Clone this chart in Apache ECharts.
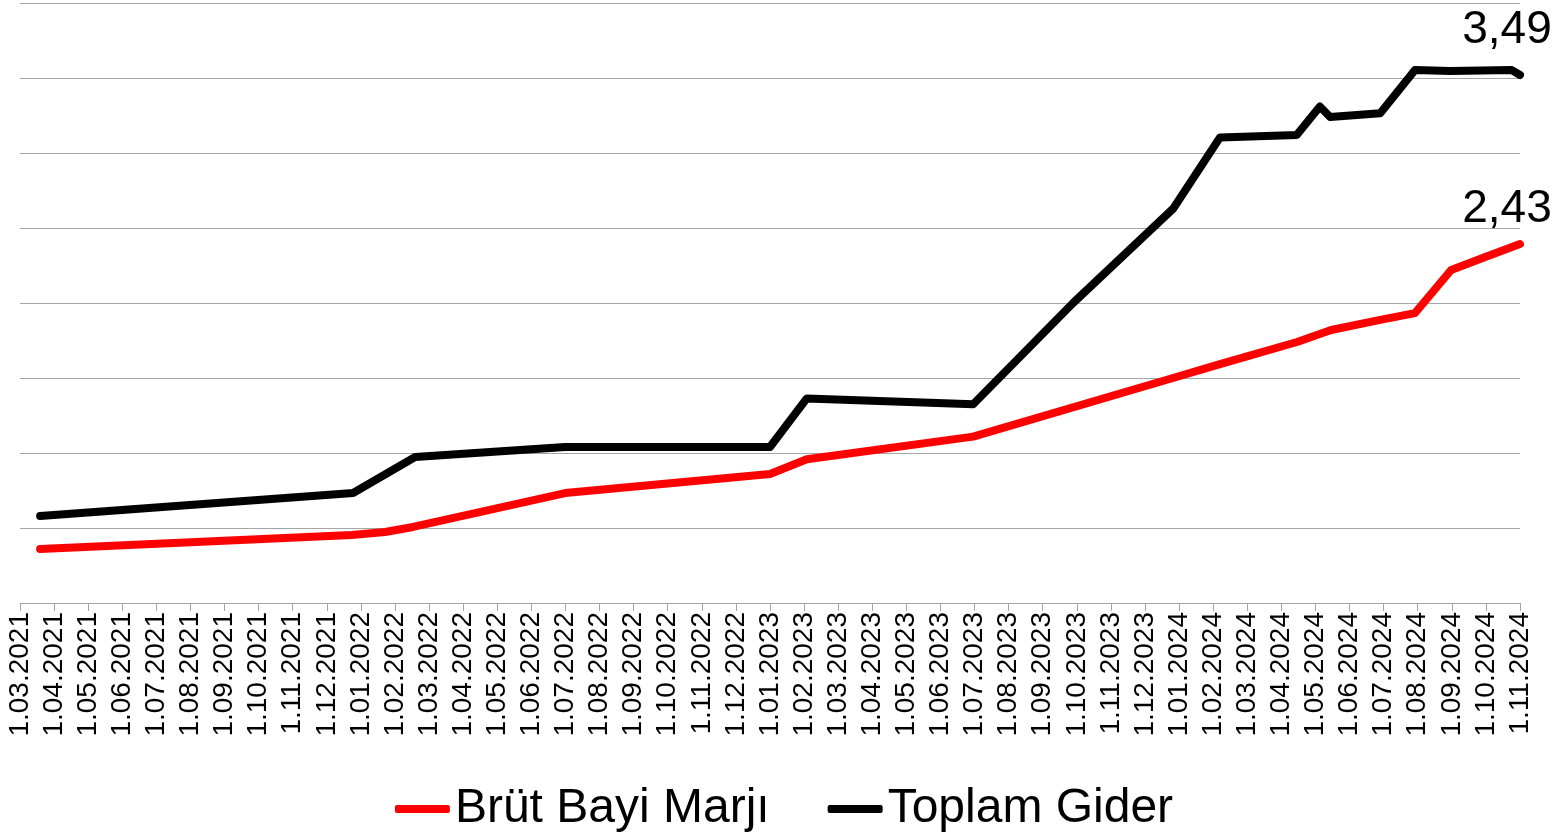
<!DOCTYPE html>
<html>
<head>
<meta charset="utf-8">
<script src="https://cdn.jsdelivr.net/npm/echarts@6/dist/echarts.min.js"></script>
<style>
html,body{margin:0;padding:0;background:#fff;}
#chart{width:1568px;height:836px;}
</style>
</head>
<body>
<div id="chart"></div>
<script>
// x-axis tick labels (monthly)
const months = ['1.03.2021','1.04.2021','1.05.2021','1.06.2021','1.07.2021','1.08.2021','1.09.2021','1.10.2021','1.11.2021','1.12.2021',
  '1.01.2022','1.02.2022','1.03.2022','1.04.2022','1.05.2022','1.06.2022','1.07.2022','1.08.2022','1.09.2022','1.10.2022','1.11.2022','1.12.2022',
  '1.01.2023','1.02.2023','1.03.2023','1.04.2023','1.05.2023','1.06.2023','1.07.2023','1.08.2023','1.09.2023','1.10.2023','1.11.2023','1.12.2023',
  '1.01.2024','1.02.2024','1.03.2024','1.04.2024','1.05.2024','1.06.2024','1.07.2024','1.08.2024','1.09.2024','1.10.2024','1.11.2024'];

const seriesNames = ['Brüt Bayi Marjı', 'Toplam Gider'];

// Brüt Bayi Marjı: positions in months since 1.03.2021, and values
const marjX = [0.59, 9.73, 10.71, 11.53, 15.99, 22.0, 23.08, 27.96, 33.82, 35.2, 37.46, 38.46, 39.9, 40.92, 41.98, 42.98, 44];
const marjY = [0.36, 0.453, 0.473, 0.507, 0.733, 0.86, 0.958, 1.109, 1.5, 1.593, 1.74, 1.82, 1.887, 1.933, 2.22, 2.307, 2.393];

// Toplam Gider
const giderX = [0.59, 9.77, 11.59, 15.99, 22.0, 23.08, 27.96, 30.89, 33.83, 35.2, 37.45, 38.13, 38.43, 39.9, 40.92, 41.95, 43.76, 44];
const giderY = [0.58, 0.733, 0.973, 1.04, 1.04, 1.364, 1.325, 2.0, 2.63, 3.104, 3.12, 3.31, 3.24, 3.265, 3.553, 3.547, 3.553, 3.52];

// end-of-line value labels
const endLabels = ['2,43', '3,49'];

const font = 'Liberation Sans, Arial, sans-serif';

function buildData(xs, ys, lbl, dist) {
  return xs.map((x, i) => {
    if (i === xs.length - 1) {
      return {
        value: [x, ys[i]],
        label: {
          show: true, position: 'top', distance: dist, offset: [-13, 0],
          formatter: () => lbl,
          fontFamily: font, fontSize: 46, color: '#000'
        }
      };
    }
    return [x, ys[i]];
  });
}

const chart = echarts.init(document.getElementById('chart'), null, {renderer: 'canvas'});
chart.setOption({
  animation: false,
  backgroundColor: '#fff',
  grid: {left: 20, right: 48, top: 3, bottom: 233, containLabel: false},
  legend: {
    bottom: -2, left: 'center',
    itemWidth: 55, itemHeight: 8, itemGap: 58,
    icon: 'roundRect',
    textStyle: {fontFamily: font, fontSize: 48, color: '#000'},
    data: seriesNames
  },
  xAxis: {
    type: 'value', min: 0, max: months.length - 1, interval: 1,
    axisLine: {show: true, lineStyle: {color: '#a6a6a6', width: 1}},
    axisTick: {show: true, length: 8, lineStyle: {color: '#a6a6a6'}},
    splitLine: {show: false},
    axisLabel: {
      rotate: 90, margin: 9, color: '#000', fontFamily: font, fontSize: 28,
      formatter: v => months[Math.round(v)] || ''
    }
  },
  yAxis: {
    type: 'value', min: 0, max: 4, interval: 0.5,
    axisLabel: {show: false}, axisLine: {show: false}, axisTick: {show: false},
    splitLine: {show: true, lineStyle: {color: '#a6a6a6', width: 1}}
  },
  series: [
    {
      name: seriesNames[0], type: 'line', symbol: 'circle', symbolSize: 0, showSymbol: true,
      color: '#ff0000',
      lineStyle: {width: 8, color: '#ff0000', cap: 'round', join: 'round'},
      data: buildData(marjX, marjY, endLabels[0], 12)
    },
    {
      name: seriesNames[1], type: 'line', symbol: 'circle', symbolSize: 0, showSymbol: true,
      color: '#000000',
      lineStyle: {width: 8, color: '#000000', cap: 'round', join: 'round'},
      data: buildData(giderX, giderY, endLabels[1], 22)
    }
  ]
});
</script>
</body>
</html>
